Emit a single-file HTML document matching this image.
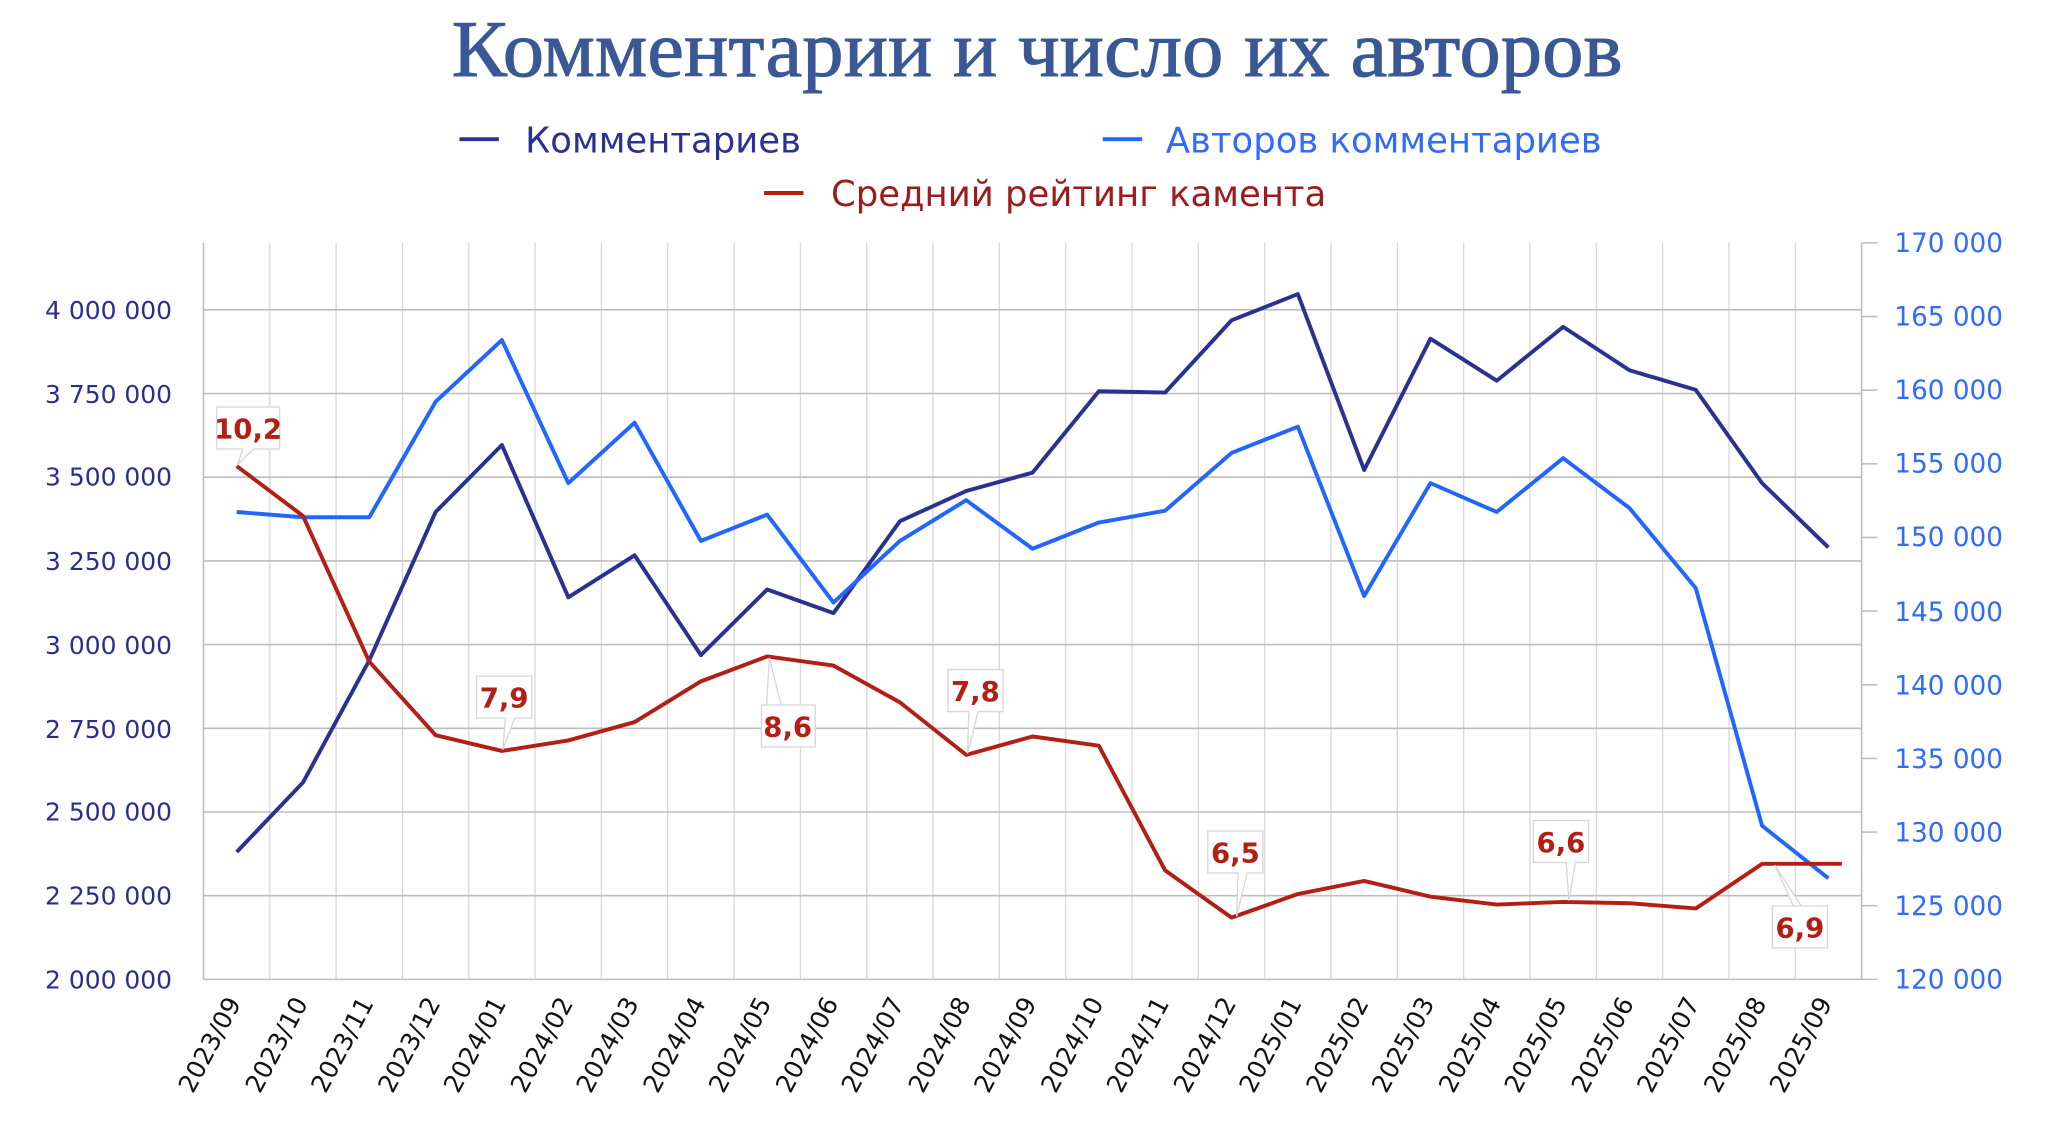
<!DOCTYPE html>
<html><head><meta charset="utf-8"><style>
html,body{margin:0;padding:0;background:#fff;}
svg{display:block;}
text{font-family:"DejaVu Sans","Liberation Sans",sans-serif;}
</style></head><body>
<svg width="2048" height="1131" viewBox="0 0 1560 861.5" xmlns="http://www.w3.org/2000/svg">
<rect width="1560" height="861.5" fill="#fff"/>
<text x="790" y="58" text-anchor="middle" style="font-family:'Liberation Serif',serif" font-size="61" fill="#3b5896" stroke="#3b5896" stroke-width="0.7" textLength="892" lengthAdjust="spacingAndGlyphs">Комментарии и число их авторов</text>
<line x1="350" y1="106" x2="380" y2="106" stroke="#2b3190" stroke-width="3"/>
<text x="400" y="116" font-size="27" fill="#2b3190">Комментариев</text>
<line x1="840" y1="106" x2="870" y2="106" stroke="#2266ff" stroke-width="3"/>
<text x="888" y="116" font-size="27" fill="#2f6bff">Авторов комментариев</text>
<line x1="582" y1="147" x2="612" y2="147" stroke="#b21f14" stroke-width="3"/>
<text x="633" y="157" font-size="27" fill="#9b1c1c">Средний рейтинг камента</text>
<g stroke="#d8d8d8" stroke-width="1">
<line x1="205.5" y1="185" x2="205.5" y2="746"/><line x1="256" y1="185" x2="256" y2="746"/><line x1="306.6" y1="185" x2="306.6" y2="746"/><line x1="357.1" y1="185" x2="357.1" y2="746"/><line x1="407.6" y1="185" x2="407.6" y2="746"/><line x1="458.1" y1="185" x2="458.1" y2="746"/><line x1="508.6" y1="185" x2="508.6" y2="746"/><line x1="559.2" y1="185" x2="559.2" y2="746"/><line x1="609.7" y1="185" x2="609.7" y2="746"/><line x1="660.2" y1="185" x2="660.2" y2="746"/><line x1="710.7" y1="185" x2="710.7" y2="746"/><line x1="761.2" y1="185" x2="761.2" y2="746"/><line x1="811.8" y1="185" x2="811.8" y2="746"/><line x1="862.3" y1="185" x2="862.3" y2="746"/><line x1="912.8" y1="185" x2="912.8" y2="746"/><line x1="963.3" y1="185" x2="963.3" y2="746"/><line x1="1013.8" y1="185" x2="1013.8" y2="746"/><line x1="1064.4" y1="185" x2="1064.4" y2="746"/><line x1="1114.9" y1="185" x2="1114.9" y2="746"/><line x1="1165.4" y1="185" x2="1165.4" y2="746"/><line x1="1215.9" y1="185" x2="1215.9" y2="746"/><line x1="1266.4" y1="185" x2="1266.4" y2="746"/><line x1="1317" y1="185" x2="1317" y2="746"/><line x1="1367.5" y1="185" x2="1367.5" y2="746"/>
</g>
<g stroke="#bdbdbd" stroke-width="1.2">
<line x1="155" y1="682.25" x2="1418" y2="682.25"/><line x1="155" y1="618.5" x2="1418" y2="618.5"/><line x1="155" y1="554.75" x2="1418" y2="554.75"/><line x1="155" y1="491" x2="1418" y2="491"/><line x1="155" y1="427.25" x2="1418" y2="427.25"/><line x1="155" y1="363.5" x2="1418" y2="363.5"/><line x1="155" y1="299.75" x2="1418" y2="299.75"/><line x1="155" y1="236" x2="1418" y2="236"/>
<line x1="155" y1="185" x2="155" y2="746"/><line x1="1418" y1="185" x2="1418" y2="746"/><line x1="155" y1="746" x2="1430" y2="746"/>
<line x1="1418" y1="689.9" x2="1430" y2="689.9"/><line x1="1418" y1="633.8" x2="1430" y2="633.8"/><line x1="1418" y1="577.7" x2="1430" y2="577.7"/><line x1="1418" y1="521.6" x2="1430" y2="521.6"/><line x1="1418" y1="465.5" x2="1430" y2="465.5"/><line x1="1418" y1="409.4" x2="1430" y2="409.4"/><line x1="1418" y1="353.3" x2="1430" y2="353.3"/><line x1="1418" y1="297.2" x2="1430" y2="297.2"/><line x1="1418" y1="241.1" x2="1430" y2="241.1"/><line x1="1418" y1="185" x2="1430" y2="185"/>
</g>
<g font-size="19" fill="#2b2f8c" text-anchor="end">
<text x="131" y="753">2 000 000</text><text x="131" y="689">2 250 000</text><text x="131" y="625">2 500 000</text><text x="131" y="562">2 750 000</text><text x="131" y="498">3 000 000</text><text x="131" y="434">3 250 000</text><text x="131" y="370">3 500 000</text><text x="131" y="307">3 750 000</text><text x="131" y="243">4 000 000</text>
</g>
<g font-size="20" fill="#2f6bff">
<text x="1443" y="753">120 000</text><text x="1443" y="697">125 000</text><text x="1443" y="641">130 000</text><text x="1443" y="585">135 000</text><text x="1443" y="529">140 000</text><text x="1443" y="473">145 000</text><text x="1443" y="416">150 000</text><text x="1443" y="360">155 000</text><text x="1443" y="304">160 000</text><text x="1443" y="248">165 000</text><text x="1443" y="192">170 000</text>
</g>
<g font-size="19" fill="#111" text-anchor="end">
<text transform="translate(184,764) rotate(-62)">2023/09</text>
<text transform="translate(235,764) rotate(-62)">2023/10</text>
<text transform="translate(285,764) rotate(-62)">2023/11</text>
<text transform="translate(336,764) rotate(-62)">2023/12</text>
<text transform="translate(386,764) rotate(-62)">2024/01</text>
<text transform="translate(437,764) rotate(-62)">2024/02</text>
<text transform="translate(487,764) rotate(-62)">2024/03</text>
<text transform="translate(538,764) rotate(-62)">2024/04</text>
<text transform="translate(588,764) rotate(-62)">2024/05</text>
<text transform="translate(639,764) rotate(-62)">2024/06</text>
<text transform="translate(689,764) rotate(-62)">2024/07</text>
<text transform="translate(740,764) rotate(-62)">2024/08</text>
<text transform="translate(790,764) rotate(-62)">2024/09</text>
<text transform="translate(841,764) rotate(-62)">2024/10</text>
<text transform="translate(891,764) rotate(-62)">2024/11</text>
<text transform="translate(942,764) rotate(-62)">2024/12</text>
<text transform="translate(992,764) rotate(-62)">2025/01</text>
<text transform="translate(1043,764) rotate(-62)">2025/02</text>
<text transform="translate(1093,764) rotate(-62)">2025/03</text>
<text transform="translate(1144,764) rotate(-62)">2025/04</text>
<text transform="translate(1194,764) rotate(-62)">2025/05</text>
<text transform="translate(1245,764) rotate(-62)">2025/06</text>
<text transform="translate(1295,764) rotate(-62)">2025/07</text>
<text transform="translate(1346,764) rotate(-62)">2025/08</text>
<text transform="translate(1396,764) rotate(-62)">2025/09</text>
</g>
<polyline fill="none" stroke="#2b3190" stroke-width="3" stroke-linejoin="round" points="180.3,649 230.8,596 281.3,503 331.8,390 382.3,339 432.9,455 483.4,423 533.9,499 584.4,449 634.9,467 685.5,397 736,374 786.5,360 837,298 887.5,299 938.1,244 988.6,224 1039.1,358 1089.6,258 1140.1,290 1190.7,249 1241.2,282 1291.7,297 1342.2,368 1392.7,417"/>
<polyline fill="none" stroke="#2266ff" stroke-width="3" stroke-linejoin="round" points="180.3,390 230.8,394 281.3,394 331.8,306 382.3,259 432.9,368 483.4,322 533.9,412 584.4,392 634.9,459 685.5,412 736,381 786.5,418 837,398 887.5,389 938.1,345 988.6,325 1039.1,454 1089.6,368 1140.1,390 1190.7,349 1241.2,387 1291.7,448 1342.2,629 1392.7,669"/>
<polyline fill="none" stroke="#b21f14" stroke-width="3" stroke-linejoin="round" points="180.3,355 230.8,393 281.3,504 331.8,560 382.3,572 432.9,564 483.4,550 533.9,519 584.4,500 634.9,507 685.5,535 736,575 786.5,561 837,568 887.5,663 938.1,699 988.6,681 1039.1,671 1089.6,683 1140.1,689 1190.7,687 1241.2,688 1291.7,692 1342.2,658 1403,658"/>
<g font-size="21" font-weight="bold" fill="#b21f14" text-anchor="middle">
<g><path d="M165,310 H213 V342 H193 L181,354 L185,342 H165 Z" fill="#fff" stroke="#d6d6d6"/><text x="189" y="334">10,2</text></g>
<g><path d="M363,515 H405 V547 H392 L383,571 L385,547 H363 Z" fill="#fff" stroke="#d6d6d6"/><text x="384" y="539">7,9</text></g>
<g><path d="M580,537 H621 V569 H580 V537 H584 L586,501 L595,537 Z" fill="#fff" stroke="#d6d6d6"/><text x="600" y="561">8,6</text></g>
<g><path d="M722,510 H764 V542 H745 L737,574 L738,542 H722 Z" fill="#fff" stroke="#d6d6d6"/><text x="743" y="534">7,8</text></g>
<g><path d="M920,633 H962 V665 H950 L942,698 L943,665 H920 Z" fill="#fff" stroke="#d6d6d6"/><text x="941" y="657">6,5</text></g>
<g><path d="M1168,625 H1210 V657 H1200 L1195,686 L1193,657 H1168 Z" fill="#fff" stroke="#d6d6d6"/><text x="1189" y="649">6,6</text></g>
<g><path d="M1350,690 H1392 V722 H1350 V690 H1366 L1352,659 L1372,690 Z" fill="#fff" stroke="#d6d6d6"/><text x="1371" y="714">6,9</text></g>
</g>
</svg>
</body></html>
